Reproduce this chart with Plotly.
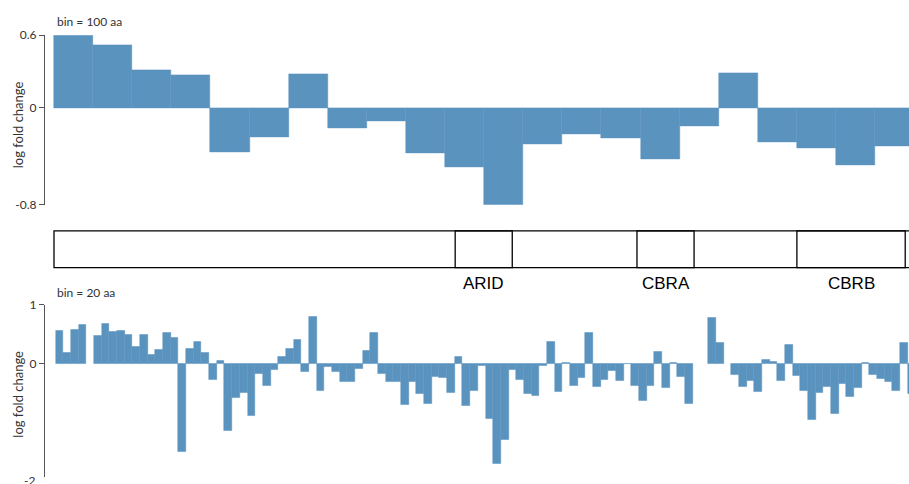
import plotly.graph_objects as go

# ---- data -------------------------------------------------------------
protein_length = 2285

# log fold change per 100 aa bin
bin100_size = 100
bin100_values = [0.60, 0.52, 0.31, 0.27, -0.37, -0.24, 0.28, -0.17, -0.11, -0.375,
                 -0.49, -0.83, -0.30, -0.22, -0.25, -0.42, -0.15, 0.29, -0.28, -0.33,
                 -0.47, -0.315]

# log fold change per 20 aa bin (None = no data in bin)
bin20_size = 20
bin20_values = [
    0.556, 0.172, 0.578, 0.65, None, 0.478, 0.667, 0.533, 0.561, 0.489, 0.289,
    0.489, 0.144, 0.239, 0.528, 0.428, -1.517, 0.25, 0.367, 0.172, -0.289, 0.044,
    -1.15, -0.594, -0.5, -0.9, -0.183, -0.378, -0.111, 0.117, 0.25, 0.394, -0.139,
    0.789, -0.461, -0.067, -0.144, -0.317, -0.317, -0.094, 0.206, 0.522, -0.172, -0.317,
    -0.317, -0.7, -0.317, -0.517, -0.689, -0.228, -0.25, -0.5, 0.106, -0.733, -0.467,
    -0.039, -0.95, -1.717, -1.3, -0.117, -0.289, -0.517, -0.556, -0.039, 0.361, -0.494,
    0.011, -0.383, -0.25, 0.522, -0.4, -0.289, -0.133, -0.3, -0.01, -0.383, -0.639,
    -0.383, 0.189, -0.417, 0.011, -0.228, -0.689, None, None, 0.778, 0.344,
    None, -0.189, -0.394, -0.306, -0.478, 0.067, 0.033, -0.3, 0.322, -0.217, -0.461,
    -0.972, -0.511, -0.394, -0.861, -0.356, -0.572, -0.411, 0.017, -0.2, -0.272,
    -0.317, -0.461, 0.35, -0.517,
]

# domain architecture (aa)
domain_names = ["ARID", "CBRA", "CBRB"]
domain_starts = [1026, 1491, 1900]
domain_ends = [1172, 1637, 2177]

# axis ticks
top_tickvals = [-0.8, 0, 0.6]
top_ticktext = ["-0.8", "0", "0.6"]
bottom_tickvals = [-2, 0, 1]
bottom_ticktext = ["-2", "0", "1"]

# ---- layout geometry (pixels) ------------------------------------------
W, H = 909, 484
BAR = "#5b93bf"
AXIS = "#555555"
TXT = "#333333"
FONT = "Lato"


def py(px):
    return 1 - px / H


axis_x = 45  # y-axis line position
# top panel: 0.6 at y=28, -0.8 at y=203; bars start at x=54, 0.391 px/aa
top_px_per_aa, top_x0 = 0.391, 54
top_range = [(axis_x - top_x0) / top_px_per_aa, (W - top_x0) / top_px_per_aa]
# bottom panel: 1 at y=306, 60.4 px per unit; bars start at x=55.6
bot_px_per_aa, bot_x0 = 0.38385, 55.6
bot_range = [(axis_x - bot_x0) / bot_px_per_aa, (W - bot_x0) / bot_px_per_aa]
bot_zero_px, bot_unit_px = 366.7, 60.4
bot_ymin = -(H - bot_zero_px) / bot_unit_px

fig = go.Figure()

bar_marker = dict(color=BAR, line=dict(color=BAR, width=0.5))
fig.add_trace(go.Bar(
    x=[bin100_size * (i + 0.5) for i in range(len(bin100_values))],
    y=bin100_values, width=bin100_size, marker=bar_marker,
    xaxis="x", yaxis="y", hoverinfo="skip",
))
fig.add_trace(go.Bar(
    x=[bin20_size * (i + 0.5) for i in range(len(bin20_values))],
    y=bin20_values, width=bin20_size, marker=bar_marker,
    xaxis="x2", yaxis="y2", hoverinfo="skip",
))

yaxis_common = dict(
    showline=True, linecolor=AXIS, linewidth=1.3, ticks="outside", ticklen=5,
    tickcolor=AXIS, tickwidth=1.3, showgrid=False, zeroline=False,
    tickfont=dict(family=FONT, size=12, color=TXT),
)

fig.update_layout(
    width=W, height=H, margin=dict(l=0, r=0, t=0, b=0),
    paper_bgcolor="white", plot_bgcolor="white", showlegend=False,
    bargap=0,
    xaxis=dict(domain=[axis_x / W, 1], range=top_range, visible=False, anchor="y"),
    yaxis=dict(domain=[py(203), py(28)], range=[-0.8, 0.6],
               tickvals=top_tickvals, ticktext=top_ticktext, anchor="x", **yaxis_common),
    xaxis2=dict(domain=[axis_x / W, 1], range=bot_range, visible=False, anchor="y2"),
    yaxis2=dict(domain=[0, py(bot_zero_px - bot_unit_px)], range=[bot_ymin, 1],
                tickvals=[v for v in bottom_tickvals if v >= bot_ymin],
                ticktext=[t for v, t in zip(bottom_tickvals, bottom_ticktext) if v >= bot_ymin],
                anchor="x2", **yaxis_common),
)

# tick label of the bottom axis that sits just below the visible area
for v, t in zip(bottom_tickvals, bottom_ticktext):
    if v < bot_ymin:
        fig.add_annotation(
            x=(axis_x - 8) / W, xref="paper", xanchor="right",
            y=py(bot_zero_px - v * bot_unit_px), yref="paper", yanchor="middle",
            text=t, showarrow=False, font=dict(family=FONT, size=12, color=TXT),
        )

# panel captions and axis titles
for label, ypx in [("bin = 100 aa", 14), ("bin = 20 aa", 294)]:
    fig.add_annotation(x=55 / W, xref="paper", xanchor="left", y=py(ypx), yref="paper",
                       yanchor="middle", text=label, showarrow=False,
                       font=dict(family=FONT, size=12, color=TXT))
for ypx in [121, 399]:
    fig.add_annotation(x=18 / W, xref="paper", xanchor="center", y=py(ypx), yref="paper",
                       yanchor="middle", text="log fold change", textangle=-90,
                       showarrow=False, font=dict(family=FONT, size=13, color=TXT))

# domain architecture track
box_top, box_bot = py(230), py(268)
line = dict(color="black", width=1.3)
fig.add_shape(type="rect", xref="x", yref="paper", x0=0, x1=protein_length,
              y0=box_bot, y1=box_top, line=line)
for name, s, e in zip(domain_names, domain_starts, domain_ends):
    fig.add_shape(type="rect", xref="x", yref="paper", x0=s, x1=e,
                  y0=box_bot, y1=box_top, line=line)
    fig.add_annotation(x=(s + e) / 2, xref="x", y=py(284), yref="paper",
                       xanchor="center", yanchor="middle", text=name, showarrow=False,
                       font=dict(family="Liberation Sans, Arial", size=17, color="black"))

fig.write_html("out.html")
